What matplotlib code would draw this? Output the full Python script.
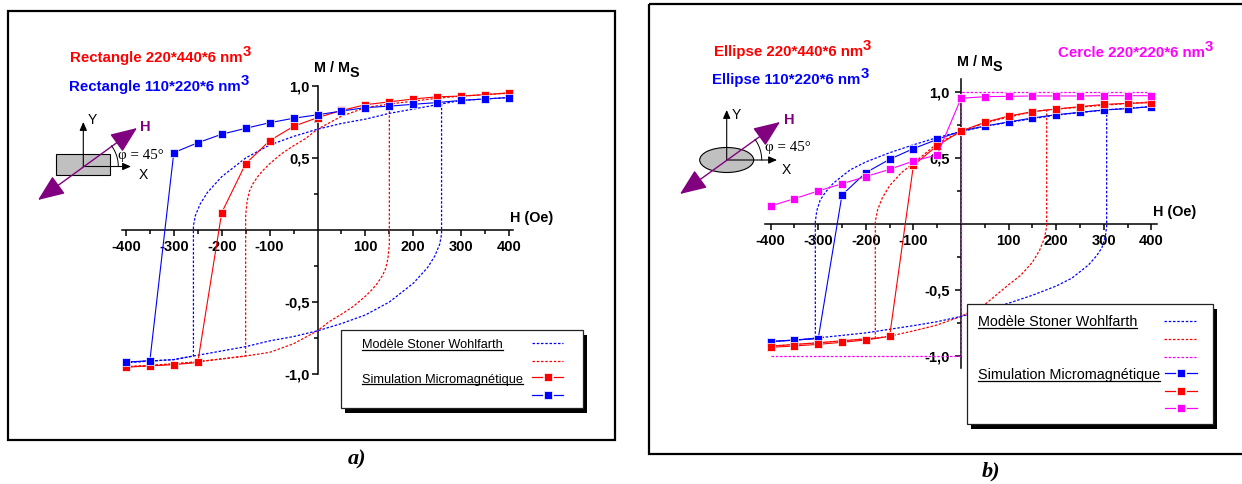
import numpy as np
import matplotlib
matplotlib.use("Agg")
import matplotlib.pyplot as plt
from matplotlib.patches import Rectangle, Ellipse, FancyArrowPatch

plt.rcParams['font.family'] = ['Liberation Sans', 'DejaVu Sans']

# ---------------- data ----------------
H_SIM = [-400, -350, -300, -250, -200, -150, -100, -50, 0, 50, 100, 150, 200, 250, 300, 350, 400]

# panel a) rectangles - micromagnetic simulation (descending field)
A_RECT_LARGE_SIM = [-0.953, -0.944, -0.935, -0.920, 0.12, 0.46, 0.62, 0.72, 0.78, 0.83,
                    0.87, 0.89, 0.91, 0.925, 0.93, 0.94, 0.953]
A_RECT_SMALL_SIM = [-0.917, -0.908, 0.537, 0.606, 0.665, 0.706, 0.745, 0.776, 0.80, 0.826,
                    0.85, 0.86, 0.873, 0.885, 0.90, 0.91, 0.92]

# panel a) Stoner-Wohlfarth, rectangle 220*440
A_SW_LARGE_DESC_H = [400, 350, 300, 250, 200, 150, 100, 50, 0, -25, -50, -75, -100, -115, -125,
                     -135, -142, -147, -150, -150, -200, -250, -300, -350, -400]
A_SW_LARGE_DESC_M = [0.95, 0.94, 0.93, 0.915, 0.895, 0.875, 0.85, 0.79, 0.70, 0.635, 0.585, 0.53,
                     0.46, 0.41, 0.37, 0.32, 0.27, 0.20, 0.10, -0.875, -0.895, -0.915, -0.93, -0.94, -0.95]
A_SW_LARGE_ASC_H = [-400, -350, -300, -250, -200, -150, -100, -50, 0, 25, 50, 75, 100, 115, 125,
                    135, 142, 147, 150, 150]
A_SW_LARGE_ASC_M = [-0.95, -0.94, -0.93, -0.915, -0.895, -0.875, -0.85, -0.79, -0.70, -0.635, -0.585,
                    -0.53, -0.46, -0.41, -0.37, -0.32, -0.27, -0.20, -0.10, 0.875]
# panel a) Stoner-Wohlfarth, rectangle 110*220
A_SW_SMALL_DESC_H = [400, 350, 300, 258, 200, 150, 100, 50, 0, -50, -100, -150, -200, -230, -245,
                     -255, -259, -259, -300, -350, -400]
A_SW_SMALL_DESC_M = [0.92, 0.91, 0.90, 0.875, 0.84, 0.81, 0.77, 0.74, 0.70, 0.65, 0.59, 0.50, 0.37,
                     0.26, 0.18, 0.10, 0.03, -0.875, -0.90, -0.91, -0.92]
A_SW_SMALL_ASC_H = [-400, -350, -300, -259, -200, -150, -100, -50, 0, 50, 100, 150, 200, 230, 245,
                    255, 259, 259]
A_SW_SMALL_ASC_M = [-0.92, -0.91, -0.90, -0.875, -0.84, -0.81, -0.77, -0.74, -0.70, -0.65, -0.59,
                    -0.50, -0.37, -0.26, -0.18, -0.10, -0.03, 0.875]

# panel b) ellipses / circle - micromagnetic simulation
B_ELL_LARGE_SIM = [-0.934, -0.924, -0.912, -0.896, -0.879, -0.851, 0.444, 0.594, 0.704, 0.770,
                   0.818, 0.851, 0.871, 0.889, 0.906, 0.914, 0.919]
B_ELL_SMALL_SIM = [-0.891, -0.879, -0.869, 0.22, 0.389, 0.49, 0.571, 0.641, 0.704, 0.742,
                   0.773, 0.803, 0.828, 0.846, 0.864, 0.874, 0.889]
B_CIRCLE_SIM = [0.136, 0.192, 0.25, 0.305, 0.359, 0.414, 0.477, 0.523, 0.952, 0.965,
                0.967, 0.97, 0.97, 0.97, 0.972, 0.972, 0.972]

# panel b) Stoner-Wohlfarth, ellipse 220*440
B_SW_LARGE_DESC_H = [400, 300, 200, 180, 150, 100, 50, 0, -50, -100, -125, -150, -165, -175, -180,
                     -180, -200, -300, -400]
B_SW_LARGE_DESC_M = [0.925, 0.90, 0.87, 0.865, 0.85, 0.81, 0.765, 0.70, 0.61, 0.46, 0.39, 0.29,
                     0.20, 0.11, 0.02, -0.865, -0.87, -0.90, -0.925]
B_SW_LARGE_ASC_H = [-400, -300, -200, -180, -150, -100, -50, 0, 50, 100, 125, 150, 165, 175, 180, 180]
B_SW_LARGE_ASC_M = [-0.925, -0.90, -0.87, -0.865, -0.85, -0.81, -0.765, -0.70, -0.61, -0.46, -0.39,
                    -0.29, -0.20, -0.11, -0.02, 0.865]
# panel b) Stoner-Wohlfarth, ellipse 110*220
B_SW_SMALL_DESC_H = [400, 306, 200, 100, 50, 0, -50, -100, -150, -200, -233, -268, -285, -296,
                     -303, -306, -306, -350, -400]
B_SW_SMALL_DESC_M = [0.89, 0.865, 0.825, 0.77, 0.74, 0.70, 0.655, 0.60, 0.54, 0.47, 0.41, 0.31,
                     0.24, 0.18, 0.10, 0.02, -0.865, -0.88, -0.89]
B_SW_SMALL_ASC_H = [-400, -350, -306, -200, -100, -50, 0, 50, 100, 150, 200, 233, 268, 285, 296,
                    303, 306, 306]
B_SW_SMALL_ASC_M = [-0.89, -0.88, -0.865, -0.825, -0.77, -0.74, -0.70, -0.655, -0.60, -0.54, -0.47,
                    -0.41, -0.31, -0.24, -0.18, -0.10, -0.02, 0.865]
# panel b) Stoner-Wohlfarth, circle
B_SW_CIRCLE_H = [-400, 0, 0, 400]
B_SW_CIRCLE_M = [-1.0, -1.0, 1.0, 1.0]

X_TICKS = [-400, -300, -200, -100, 100, 200, 300, 400]
X_TICK_LABELS = ['-400', '-300', '-200', '-100', '100', '200', '300', '400']
X_MINOR = [-350, -250, -150, -50, 50, 150, 250, 350]
Y_TICKS = [-1.0, -0.5, 0.5, 1.0]
Y_TICK_LABELS = ['-1,0', '-0,5', '0,5', '1,0']
Y_MINOR = [-0.75, -0.25, 0.25, 0.75]

TITLES_A = ['Rectangle 220*440*6 nm', 'Rectangle 110*220*6 nm']
TITLES_B = ['Ellipse 220*440*6 nm', 'Ellipse 110*220*6 nm', 'Cercle 220*220*6 nm']
LEG_SW = 'Modèle Stoner Wohlfarth'
LEG_SIM = 'Simulation Micromagnétique'

# ---------------- figure ----------------
W, H = 1242, 484
DPI = 100
fig = plt.figure(figsize=(W / DPI, H / DPI), dpi=DPI)
fig.patch.set_facecolor('white')

RED = '#ff0000'
BLUE = '#0000ff'
MAG = '#ff00ff'
PURPLE = '#800080'
DOT = (0, (2.0, 1.4))


def make_axes(x0, sx, y0, sy, xlim, ylim):
    left = x0 + xlim[0] * sx
    right = x0 + xlim[1] * sx
    top = y0 - ylim[1] * sy
    bottom = y0 - ylim[0] * sy
    ax = fig.add_axes([left / W, 1 - bottom / H, (right - left) / W, (bottom - top) / H])
    ax.set_xlim(*xlim)
    ax.set_ylim(*ylim)
    ax.patch.set_alpha(0)
    return ax


def style_axes(ax, xb, yb, ypad):
    for s in ['top', 'right']:
        ax.spines[s].set_visible(False)
    ax.spines['left'].set_position(('data', 0))
    ax.spines['bottom'].set_position(('data', 0))
    ax.spines['left'].set_bounds(*yb)
    ax.spines['bottom'].set_bounds(*xb)
    for s in ['left', 'bottom']:
        ax.spines[s].set_linewidth(1.1)
    ax.set_xticks(X_TICKS)
    ax.set_xticklabels(X_TICK_LABELS)
    ax.set_xticks(X_MINOR, minor=True)
    ax.set_yticks(Y_TICKS)
    ax.set_yticklabels(Y_TICK_LABELS)
    ax.set_yticks(Y_MINOR, minor=True)
    ax.tick_params(which='major', direction='out', length=4.5, width=1.1, labelsize=10.5)
    ax.tick_params(which='minor', direction='out', length=3, width=1.1)
    ax.tick_params(axis='x', pad=3)
    ax.tick_params(axis='y', pad=ypad)
    for lab in ax.get_xticklabels() + ax.get_yticklabels():
        lab.set_fontweight('bold')


def sim(ax, m, color):
    ax.plot(H_SIM, m, color=color, lw=0.8, marker='s', ms=5.6, mfc=color,
            mec='white', mew=0.5, zorder=4)


def sw(ax, h, m, color):
    ax.plot(h, m, color=color, lw=0.9, ls=DOT, zorder=3)


# panel a
axa = make_axes(317.5, 0.479, 230, 144, (-430, 430), (-1.25, 1.3))
style_axes(axa, (-408, 409), (-1.0, 1.0), 1.0)
sw(axa, A_SW_LARGE_DESC_H, A_SW_LARGE_DESC_M, RED)
sw(axa, A_SW_LARGE_ASC_H, A_SW_LARGE_ASC_M, RED)
sw(axa, A_SW_SMALL_DESC_H, A_SW_SMALL_DESC_M, BLUE)
sw(axa, A_SW_SMALL_ASC_H, A_SW_SMALL_ASC_M, BLUE)
sim(axa, A_RECT_LARGE_SIM, RED)
sim(axa, A_RECT_SMALL_SIM, BLUE)

# panel b
axb = make_axes(961, 0.476, 224, 132, (-430, 430), (-1.3, 1.3))
style_axes(axb, (-412, 412), (-1.09, 1.1), 3.5)
sw(axb, B_SW_CIRCLE_H, B_SW_CIRCLE_M, MAG)
sw(axb, B_SW_LARGE_DESC_H, B_SW_LARGE_DESC_M, RED)
sw(axb, B_SW_LARGE_ASC_H, B_SW_LARGE_ASC_M, RED)
sw(axb, B_SW_SMALL_DESC_H, B_SW_SMALL_DESC_M, BLUE)
sw(axb, B_SW_SMALL_ASC_H, B_SW_SMALL_ASC_M, BLUE)
sim(axb, B_ELL_SMALL_SIM, BLUE)
sim(axb, B_ELL_LARGE_SIM, RED)
sim(axb, B_CIRCLE_SIM, MAG)

# ---------------- overlay (pixel coordinates) ----------------
ov = fig.add_axes([0, 0, 1, 1])
ov.set_xlim(0, W)
ov.set_ylim(H, 0)
ov.axis('off')
ov.patch.set_alpha(0)
ov.set_zorder(10)

# frames
ov.add_patch(Rectangle((8, 11), 607, 429, fill=False, ec='black', lw=1.6))
ov.add_patch(Rectangle((649, 4), 600, 450, fill=False, ec='black', lw=1.6))
ov.text(357, 459, 'a)', ha='center', va='center', fontsize=16, fontweight='bold',
        fontstyle='italic', family=['Liberation Serif', 'DejaVu Serif'])
ov.text(991, 471, 'b)', ha='center', va='center', fontsize=16, fontweight='bold',
        fontstyle='italic', family=['Liberation Serif', 'DejaVu Serif'])


def title(x, y, s, color):
    t = ov.text(x, y, s, ha='left', va='center', fontsize=10.8, fontweight='bold', color=color)
    ov.annotate('3', xy=(1.0, 0.45), xycoords=t, ha='left', va='bottom', fontsize=10.8,
                fontweight='bold', color=color)


title(70, 58, TITLES_A[0], RED)
title(69, 87, TITLES_A[1], BLUE)
title(714, 52, TITLES_B[0], RED)
title(712, 80, TITLES_B[1], BLUE)
title(1058, 53, TITLES_B[2], MAG)


def mlabel(x, y):
    t = ov.text(x, y, 'M / M', ha='left', va='center', fontsize=10.4, fontweight='bold')
    ov.annotate('S', xy=(1.0, 0.5), xycoords=t, xytext=(0, -5), textcoords='offset pixels',
                ha='left', va='center', fontsize=10.4, fontweight='bold')


mlabel(314, 68)
mlabel(957, 62)
ov.text(510, 218, 'H (Oe)', ha='left', va='center', fontsize=10.4, fontweight='bold')
ov.text(1153, 212, 'H (Oe)', ha='left', va='center', fontsize=10.4, fontweight='bold')


# insets
def arrow(p0, p1, color='black', style='-|>,head_length=0.5,head_width=0.22', lw=0.8, ms=10):
    ov.add_patch(FancyArrowPatch(p0, p1, arrowstyle=style, mutation_scale=ms, color=color,
                                 lw=lw, shrinkA=0, shrinkB=0))


def inset(cx, cy, shape, yt, xt, pa, pb, hpos, phipos, ylab, xlab):
    if shape == 'rect':
        ov.add_patch(Rectangle((cx - 27, cy - 12.5), 54, 21, fc='#c0c0c0', ec='black', lw=0.8))
    else:
        ov.add_patch(Ellipse((cx, cy), 54, 25, fc='#c0c0c0', ec='black', lw=0.8))
    arrow((cx, cy), (cx, yt))
    arrow((cx, cy), (xt, cy))
    ov.text(*ylab, 'Y', ha='center', va='center', fontsize=10)
    ov.text(*xlab, 'X', ha='center', va='center', fontsize=10)
    arrow(pa, pb, color=PURPLE, style='<|-|>,head_length=1.1,head_width=0.45', lw=1.0, ms=15)
    ov.text(*hpos, 'H', ha='center', va='center', fontsize=10.5, fontweight='bold', color=PURPLE)
    ang = np.arctan2(pa[1] - pb[1], pb[0] - pa[0])
    t = np.linspace(0, ang, 30)
    ov.plot(cx + 35 * np.cos(t), cy - 35 * np.sin(t), color='black', lw=0.7)
    ov.text(*phipos, 'φ = 45°', ha='left', va='center', fontsize=10.8,
            family=['Liberation Serif', 'DejaVu Serif'])


inset(83.3, 166.5, 'rect', 122, 131, (38, 200), (137, 128), (145, 127), (118, 156),
      (92, 120), (143, 175))
inset(726.7, 160, 'ell', 110, 777, (680, 194), (780, 122), (789, 120), (765, 148),
      (736, 115), (786, 170))


# legends
def legend_box(x0, y0, x1, y1):
    ov.add_patch(Rectangle((x0 + 4, y0 + 5), x1 - x0, y1 - y0, fc='black', ec='black', lw=0))
    ov.add_patch(Rectangle((x0, y0), x1 - x0, y1 - y0, fc='white', ec='#222222', lw=0.9))


def under_text(x, y, s, fs):
    return ov.text(x, y, s, ha='left', va='baseline', fontsize=fs)


def sample_dot(x0, x1, y, color):
    ov.plot([x0, x1], [y, y], color=color, lw=0.9, ls=DOT)


def sample_sq(x0, x1, y, color):
    xm = (x0 + x1) / 2
    ov.plot([x0, xm - 6], [y, y], color=color, lw=0.9)
    ov.plot([xm + 6, x1], [y, y], color=color, lw=0.9)
    ov.plot([xm], [y], marker='s', ms=5.6, mfc=color, mec='white', mew=0.5, ls='none')


legend_box(341, 330, 583, 408)
ua = [under_text(362, 348, LEG_SW, 9.2), under_text(362, 382.5, LEG_SIM, 9.2)]
sample_dot(532, 563, 343, BLUE)
sample_dot(532, 563, 361, RED)
sample_sq(532, 563, 377, RED)
sample_sq(532, 563, 395, BLUE)

legend_box(967, 304, 1213, 424)
ub = [under_text(978, 326, LEG_SW, 10.4), under_text(978, 379.5, LEG_SIM, 10.4)]
sample_dot(1164, 1196, 321, BLUE)
sample_dot(1164, 1196, 339, RED)
sample_dot(1164, 1196, 357, MAG)
sample_sq(1165, 1197, 373, BLUE)
sample_sq(1165, 1197, 391, RED)
sample_sq(1165, 1197, 408, MAG)

fig.canvas.draw()
r = fig.canvas.get_renderer()
inv = ov.transData.inverted()
for t in ua + ub:
    bb = t.get_window_extent(r)
    (xa, _), (xb, _) = inv.transform([(bb.x0, bb.y0), (bb.x1, bb.y0)])
    yb = t.get_position()[1] + 1.8
    ov.plot([xa, xb], [yb, yb], color='black', lw=0.9)

fig.savefig('out.png', dpi=DPI, facecolor='white')
